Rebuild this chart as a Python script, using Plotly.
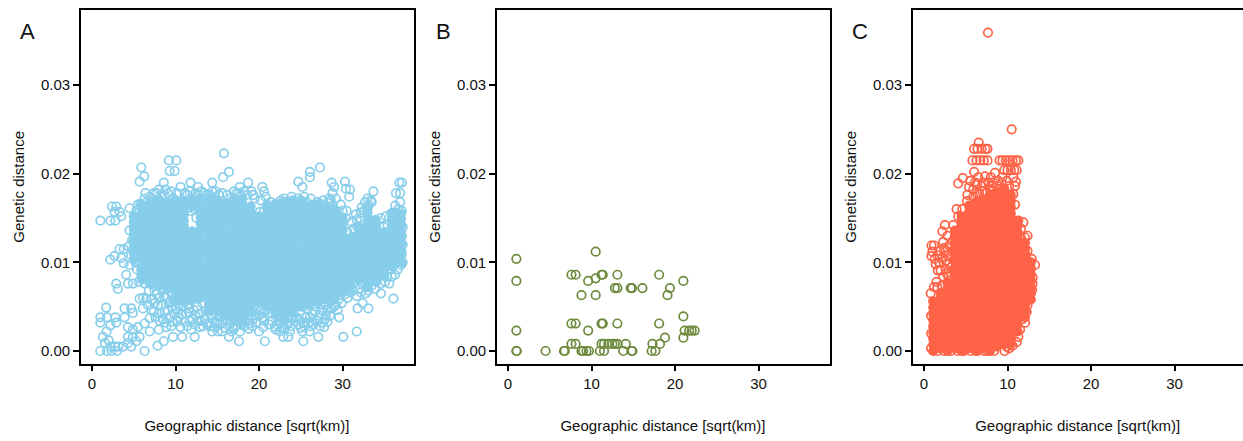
import plotly.graph_objects as go

W, H = 1243, 441
SKY, OLIVE, TOMATO = "#87CEEB", "#6E8B3D", "#FF6347"
PANELS = ["A", "B", "C"]
X_TICKS = [0, 10, 20, 30]
Y_TICKS = [0.0, 0.01, 0.02, 0.03]
Y_LABELS = ["0.00", "0.01", "0.02", "0.03"]
X_TITLE = "Geographic distance [sqrt(km)]"
Y_TITLE = "Genetic distance"

# genetic distance values below are in units of 1e-4
A_core_x = [5, 6, 7, 8, 9, 10, 11, 12, 13, 14, 15, 16, 17, 18, 19, 20, 21, 22, 23, 24, 25, 26, 27, 28, 29, 30, 31, 32, 33, 34, 35, 36, 37]
A_core_y = [
 [103, 110, 117, 124, 131, 138, 145, 152],
 [81, 88, 95, 102, 109, 116, 123, 130, 137, 144, 151, 158, 165],
 [77, 84, 91, 98, 105, 112, 119, 126, 133, 140, 147, 154, 161, 168],
 [73, 80, 87, 94, 101, 108, 115, 122, 129, 136, 143, 150, 157, 164, 171],
 [70, 77, 84, 91, 98, 105, 112, 119, 126, 133, 140, 147, 154, 161, 168],
 [59, 66, 73, 80, 87, 94, 101, 108, 115, 122, 129, 136, 143, 150, 157, 164, 170],
 [56, 63, 70, 77, 84, 91, 98, 105, 112, 119, 126, 133, 140, 147, 154, 161, 168],
 [58, 65, 72, 79, 86, 93, 100, 107, 114, 121, 128, 135, 163, 170],
 [60, 67, 74, 81, 88, 95, 102, 109, 116, 123, 130, 137, 144, 151, 158, 165, 172],
 [46, 53, 60, 67, 74, 81, 88, 95, 102, 109, 116, 123, 130, 137, 144, 151, 158, 165, 172],
 [44, 51, 58, 65, 72, 79, 86, 93, 100, 107, 114, 121, 128, 135, 142, 149, 156, 163, 170],
 [41, 48, 55, 62, 69, 76, 83, 90, 97, 104, 111, 118, 125, 132, 139, 146, 153, 160, 167],
 [34, 41, 48, 55, 62, 69, 76, 83, 90, 97, 104, 111, 118, 125, 132, 139, 146, 153, 160, 167, 172],
 [33, 40, 47, 54, 61, 68, 75, 82, 89, 96, 103, 110, 117, 124, 131, 138, 145, 152, 159, 166, 172],
 [45, 52, 59, 66, 73, 80, 87, 94, 101, 108, 115, 122, 129, 136, 143, 150, 157, 163],
 [56, 63, 70, 77, 84, 91, 98, 105, 112, 119, 126, 133, 140, 147, 152],
 [52, 59, 66, 73, 80, 87, 94, 101, 108, 115, 122, 129, 136, 143, 150, 157, 163],
 [42, 49, 56, 63, 70, 77, 84, 91, 98, 105, 112, 119, 126, 133, 140, 147, 154, 161, 166],
 [35, 42, 49, 56, 63, 70, 77, 84, 91, 98, 105, 112, 119, 126, 133, 140, 147, 154, 161, 168],
 [44, 51, 58, 65, 72, 79, 86, 93, 100, 107, 114, 121, 128, 135, 142, 149, 156, 163, 168],
 [50, 57, 64, 71, 78, 85, 92, 99, 106, 113, 120, 127, 134, 141, 148, 155, 162, 168],
 [52, 59, 66, 73, 80, 87, 94, 101, 108, 115, 122, 129, 136, 143, 150, 157, 164],
 [55, 62, 69, 76, 83, 90, 97, 104, 111, 118, 125, 132, 139, 146, 153, 160, 165],
 [58, 65, 72, 79, 86, 93, 100, 107, 114, 121, 128, 135, 142, 149, 156, 161],
 [58, 65, 72, 79, 86, 93, 100, 107, 114, 121, 128, 135, 142, 149, 156, 160],
 [66, 73, 80, 87, 94, 101, 108, 115, 122, 129, 136, 143, 150],
 [72, 79, 86, 93, 100, 107, 114, 121, 128],
 [80, 87, 94, 101, 108, 115, 122, 129, 136, 140],
 [72, 79, 86, 93, 100, 107, 114, 121, 128, 135, 142, 149, 156, 161],
 [78, 85, 92, 99, 106, 113, 120, 127, 134, 141, 148],
 [85, 92, 99, 106, 113, 120, 127, 134],
 [95, 102, 109, 116, 123, 130, 137, 144, 151, 156],
 [100, 107, 114, 121, 128, 135, 142, 149, 155],
]

A_outliers = [
 (15.8, 223), (16.4, 202), (15.7, 196), (9.2, 215), (10.1, 215), (9.3, 203), (9.9, 203), (5.9, 207),
 (6.25, 197), (5.7, 191), (8.6, 190), (6.4, 178), (11.8, 190), (10.6, 185), (12.7, 185), (14.4, 190),
 (17.7, 185), (18.7, 190), (19.1, 180), (20.4, 185), (20.6, 180), (20.8, 174), (24.7, 191), (25.2, 185),
 (26.1, 202), (26.1, 196), (27.3, 207), (28.7, 190), (29, 185), (30.3, 191), (30.4, 183), (30.9, 182),
 (30.8, 174), (33.7, 180), (36.8, 190), (37.1, 190), (36.4, 178), (36.9, 178), (23.9, 174), (22.9, 164),
 (28.8, 178), (28.4, 172),
 (1, 147), (2.2, 147), (2.8, 147), (2.4, 163), (2.9, 163), (2.7, 157), (3.3, 157), (3.5, 152), (4.5, 161),
 (5.1, 152), (5.5, 165), (4.5, 136), (5.7, 140), (2.2, 103), (2.7, 107), (3.3, 115), (3.8, 115), (3.5, 105),
 (3.8, 99), (4.5, 97), (4.1, 86), (4.3, 76), (4.9, 76), (2.9, 76), (3.1, 70), (6.3, 76), (5.1, 123), (4.9, 114),
 (1, 0), (1, 38), (1, 32), (1.7, 49), (1.8, 38), (2.8, 38), (2.9, 32), (2.2, 29), (1.75, 22), (1.3, 16),
 (1.55, 9), (2, 12), (1.8, 0), (2.35, 0), (3, 0), (2.2, 5), (2.75, 5), (3.15, 5), (3.7, 5), (3.9, 48),
 (4.7, 48), (4.9, 43), (3.9, 38), (4.3, 27), (4.9, 24), (4.3, 16), (4.9, 16), (4.3, 9), (4.7, 5), (5.3, 11),
 (5.7, 16), (6.3, 0), (6.3, 31), (5.5, 27), (6.9, 22), (6.9, 37), (7.85, 6), (8.6, 11), (6.1, 48), (5.7, 59),
 (6.5, 59), (7.5, 54), (8, 42), (8, 24), (8.9, 27), (9.7, 16), (10.8, 16), (12.3, 16), (11.9, 24), (12.9, 27),
 (11.6, 48), (9.7, 33), (10.6, 27), (14, 32), (14.4, 22), (15.1, 22), (15.6, 22), (16.4, 16), (17.6, 11),
 (17.7, 22), (16.9, 27), (18.7, 37), (19.7, 32), (20, 22), (20.7, 11), (20.5, 27), (21.9, 27), (22.5, 22),
 (22.9, 16), (23.5, 16), (23.7, 22), (23.6, 32), (25.3, 11), (25.2, 22), (25.3, 32), (26.05, 22), (27.1, 16),
 (26.3, 33), (27.8, 27), (28.2, 33), (29.6, 38), (30.1, 16), (31.7, 22), (29.9, 54), (31.8, 48), (32.4, 54),
 (33.1, 48), (32.8, 65), (34.6, 65), (36.1, 59), (37, 97), (35.6, 76), (34.6, 76), (34, 80), (34.2, 136), (33.7, 147),
]

A_fringe = [
 (5.2, 100), (4.7, 108), (5.4, 92), (5.9, 84), (6.4, 90), (5.6, 78), (6.8, 68), (7.4, 74), (7.8, 64), (8.4, 70),
 (8.9, 60), (9.5, 66), (9.9, 56), (10.5, 60), (6.6, 84), (7.3, 82), (8.3, 52), (9.1, 46), (9.6, 50), (10.3, 44),
 (10.9, 50), (11.3, 42), (7.1, 46), (7.6, 38), (8.5, 36), (9.2, 38), (10.2, 33), (11.1, 33), (11.7, 34), (12.3, 30),
 (12.6, 50), (13.2, 54), (13.6, 45), (14.3, 40), (14.7, 33), (15.2, 38), (15.7, 32), (16.2, 36), (16.7, 22), (17.2, 28),
 (17.4, 34), (18.2, 28), (18.6, 44), (19.2, 44), (19.6, 40), (20.2, 46), (20.8, 54), (21.3, 50), (21.6, 42), (22.2, 38),
 (22.5, 32), (23.1, 26), (23.4, 38), (24, 44), (24.5, 38), (24.9, 44), (25.6, 38), (25.8, 48), (26.4, 42), (26.8, 50),
 (27.2, 40), (27.5, 46), (27.9, 36), (28.2, 46), (28.6, 56), (29.2, 66), (29.7, 66), (30.3, 64), (30.7, 76), (31, 66),
 (31.4, 78), (31.9, 70), (32.3, 76), (32.6, 84), (33.2, 80), (33.7, 88), (34.3, 90), (34.8, 86), (35.3, 84), (35.8, 92),
 (36.3, 86), (36.7, 100), (37.1, 110), (36.4, 104), (35.3, 100), (34.6, 104), (30.6, 134), (31.2, 128), (31.8, 140), (32.1, 150),
 (32.6, 158), (33.1, 164), (33.5, 168), (32.3, 162), (31.6, 154), (31.1, 145), (30.4, 150), (30, 158), (29.6, 152), (29.2, 158),
 (28.8, 164), (28.3, 167), (27.8, 162), (27.3, 166), (26.5, 165), (25.7, 168), (25, 170), (24.4, 167), (23.3, 168), (22.3, 165),
 (21.7, 162), (21, 165), (20.2, 170), (19.5, 172), (18.6, 176), (17.9, 175), (17.3, 178), (16.7, 173), (15.6, 178), (14.8, 180),
 (14.1, 176), (13.4, 178), (12.8, 176), (12.2, 172), (11.4, 176), (11, 170), (10.7, 166), (9.7, 172), (9.1, 178), (8.4, 176),
 (7.7, 178), (7.2, 172), (6.6, 168), (6.2, 162), (5.6, 156), (36.3, 164), (36.9, 168), (35.8, 155), (35.2, 152), (34.6, 150),
 (37.2, 140), (37.1, 130), (37.2, 120), (33.8, 130), (33.4, 118), (34.3, 110), (31.9, 96), (31, 110), (30.6, 120), (5.4, 150),
 (11.9, 158), (12.3, 160), (11.6, 162), (12.5, 150), (4.8, 125), (4.4, 118), (5.2, 135),
]

A_band = [
 (7.2, 58), (7.9, 52), (8.7, 44), (9.4, 56), (10.1, 48), (10.8, 42), (11.5, 52), (12.2, 46), (12.9, 42), (13.5, 36), (14.1, 28), (14.6, 27),
 (15.3, 30), (15.9, 26), (16.5, 30), (17, 25), (17.8, 30), (18.4, 36), (18.9, 31), (19.4, 50), (20, 40), (20.6, 34), (21.1, 42), (21.5, 34),
 (22.1, 30), (22.7, 26), (23.3, 30), (23.8, 28), (24.3, 34), (24.8, 36), (25.4, 28), (25.9, 32), (26.5, 30), (27, 34), (27.6, 32), (28, 40),
 (28.5, 40), (29, 50), (29.5, 58), (30.1, 70), (30.6, 60), (31.2, 70), (31.7, 62), (32.2, 66), (32.9, 72), (33.5, 74), (7.5, 68), (8.1, 60),
 (8.6, 62), (9.2, 54), (9.8, 42), (10.4, 52), (11, 58), (11.6, 44), (12.4, 40), (13, 34), (13.8, 30), (14.9, 40), (15.5, 44), (16, 40),
 (17.6, 36), (18.1, 38), (18.8, 25), (19.3, 36), (19.8, 46), (20.4, 38), (21, 47), (21.8, 48), (22.4, 44), (23, 34), (23.6, 44), (24.2, 48),
 (24.7, 30), (25.3, 50), (26.1, 38), (26.7, 44), (27.4, 52), (28, 52), (28.4, 62), (29, 60), (29.4, 46), (30, 66), (6.9, 76), (7.7, 84),
 (7.2, 90), (5.9, 92), (6.3, 102), (5.5, 112), (6.1, 60), (6.7, 52), (7.4, 44), (8.1, 34), (8.8, 32), (9.5, 28), (10.4, 38), (11.4, 28), (12, 36),
 (12.7, 34), (13.3, 28), (13.9, 44), (14.5, 48), (15, 32), (16.6, 40), (18.3, 46), (19.2, 28), (20.5, 44), (21.2, 30), (22, 24), (22.6, 40), (24, 38),
 (25, 26), (26.2, 28), (27.3, 28), (28.7, 48), (29.2, 52), (30.8, 68), (33.1, 68), (33.9, 70), (35.1, 78), (35.9, 84), (36.6, 92), (37.2, 100),
 (34.9, 140), (35.4, 142), (35.9, 148), (36.3, 156), (36.7, 160), (37.1, 158), (33.4, 170), (33, 172), (32.7, 168), (32.2, 156), (31.7, 148), (31.3, 138),
 (30.5, 158), (29.8, 165), (29.2, 172), (28.6, 170), (27.7, 170), (27, 168), (26.2, 172), (25.4, 174), (24.7, 172), (24, 170), (23, 172), (22.6, 170),
 (21.4, 168), (20.6, 158), (20.1, 157), (19.3, 176), (18.2, 180), (17.6, 178), (17, 180), (16.2, 176), (15.2, 176), (14.4, 180), (13.7, 176), (13.1, 180),
 (12.4, 178), (11.7, 180), (11.1, 178), (10.2, 178), (9.5, 180), (8.8, 182), (8, 182), (7.4, 178), (6.9, 174), (6.3, 172), (5.8, 166), (5.3, 158),
]

B_points = [
 (1, 104), (1, 79), (1, 23), (1, 0), (1.05, 0), (4.5, 0), (6.7, 0), (6.8, 0), (8.8, 0), (9, 0), (9.4, 0), (9.7, 0),
 (11, 0), (11.5, 0), (13.8, 0), (14.8, 0), (14.9, 0), (17.2, 0), (17.65, 0), (7.6, 8), (8.1, 8), (11.2, 8), (11.5, 8),
 (12, 8), (12.5, 8), (12.8, 8), (13.1, 8), (14.1, 8), (17.3, 8), (18.2, 8), (18.8, 15), (21, 15), (7.6, 31), (8.1, 31),
 (9.6, 23), (11.2, 31), (11.35, 31), (13.1, 31), (18.1, 31), (21, 39), (21.15, 23), (21.7, 23), (22, 23), (22.35, 23),
 (10.5, 112), (7.6, 86), (8.1, 86), (9.6, 79), (10.5, 82), (11.2, 86), (11.35, 86), (13.1, 86), (18.1, 86), (21, 79),
 (19.4, 71), (19.1, 63), (8.8, 63), (10.5, 63), (12.8, 71), (13.1, 71), (14.7, 71), (14.85, 71), (16.1, 71),
]

C_core_x = [1.1, 2.0, 2.8, 3.7, 4.5, 5.4, 6.2, 7.0, 7.9, 8.7, 9.6, 10.4, 11.2, 12.1, 12.8]
C_core_y = [
 [0, 7, 14, 21, 28, 35, 42, 49, 56],
 [3, 10, 17, 24, 31, 38, 45, 52, 59, 65],
 [0, 7, 14, 21, 28, 35, 42, 49, 56, 63, 70, 77],
 [3, 10, 17, 24, 31, 38, 45, 52, 59, 66, 73, 80, 87, 94, 101, 108, 115, 122, 129, 136],
 [0, 7, 14, 21, 28, 35, 42, 49, 56, 63, 70, 77, 84, 91, 98, 105, 112, 119, 126, 133, 140, 147, 152],
 [3, 10, 17, 24, 31, 38, 45, 52, 59, 66, 73, 80, 87, 94, 101, 108, 115, 122, 129, 136, 143, 150, 157, 164],
 [0, 7, 14, 21, 28, 35, 42, 49, 56, 63, 70, 77, 84, 91, 98, 105, 112, 119, 126, 133, 140, 147, 154, 161, 168],
 [3, 10, 17, 24, 31, 38, 45, 52, 59, 66, 73, 80, 87, 94, 101, 108, 115, 122, 129, 136, 143, 150, 157, 164, 170],
 [0, 7, 14, 21, 28, 35, 42, 49, 56, 63, 70, 77, 84, 91, 98, 105, 112, 119, 126, 133, 140, 147, 154, 161, 168, 175],
 [5, 12, 19, 26, 33, 40, 47, 54, 61, 68, 75, 82, 89, 96, 103, 110, 117, 124, 131, 138, 145, 152, 159, 166, 173, 180],
 [8, 15, 22, 29, 36, 43, 50, 57, 64, 71, 78, 85, 92, 99, 106, 113, 120, 127, 134, 141, 148, 155, 162, 169, 176, 183],
 [8, 15, 22, 29, 36, 43, 50, 57, 64, 71, 78, 85, 92, 99, 106, 113, 120, 127, 134, 141, 148, 155, 162, 169, 176],
 [22, 29, 36, 43, 50, 57, 64, 71, 78, 85, 92, 99, 106, 113, 120, 127, 134, 141, 147],
 [38, 45, 52, 59, 66, 73, 80, 87, 94, 101, 108, 115, 122],
 [58, 65, 72, 79, 86, 93, 100],
]

C_rings = [
 (7.66, 359), (10.5, 250), (6.55, 235), (6.0, 228), (6.4, 228), (6.9, 228), (7.35, 228), (7.6, 228),
 (5.8, 215), (6.3, 215), (6.75, 215), (7.15, 215), (7.6, 215), (9.05, 215), (9.4, 215), (9.8, 215),
 (10.2, 215), (10.6, 215), (11.0, 215), (11.3, 215), (9.6, 204), (10, 204), (10.4, 204), (10.8, 204),
 (11.1, 204), (6, 202), (8.5, 201), (4.65, 195), (4.1, 189), (5.4, 185), (5.55, 192), (7.3, 197), (6.35, 189),
 (11, 191), (10.7, 177), (10.9, 165), (5.15, 169), (3.9, 160), (11.9, 145), (11.3, 147), (12.4, 130),
 (12.4, 113), (12.9, 104), (13.3, 97), (13, 83), (12.95, 69), (12.5, 61), (12.1, 32), (11.3, 16), (11.1, 10),
 (9.65, 0), (8.4, 0), (2.5, 142), (2.2, 135), (2.8, 130), (2.3, 123), (0.9, 119), (1.2, 119), (0.9, 107),
 (1.4, 98), (1.65, 91), (2, 91), (3, 119), (2.6, 113), (2.2, 106), (2.6, 102), (3, 98), (1.6, 108), (1.8, 100),
 (0.8, 65), (1.2, 72), (1.6, 72), (6.9, 186), (7.7, 190), (8.1, 186), (8.9, 192), (9.3, 190), (6.6, 178),
 (7.4, 178), (8.2, 180), (5.9, 174), (4.6, 160), (4.1, 152), (3.5, 142), (11.6, 128), (11.9, 120), (12.6, 100),
 (11.5, 24), (11.8, 36), (12.4, 52), (13, 76), (3.3, 95), (3.2, 106), (3.4, 124), (0.85, 40), (0.85, 20), (0.85, 3),
 (1.6, 0), (2.4, 0), (3.2, 0), (4, 0), (4.8, 0), (5.6, 0), (6.4, 0), (7.2, 0), (7.6, 0),
 (1.0, 112), (1.3, 104), (1.9, 113), (2.4, 116), (2.8, 108), (3.3, 112), (3.2, 88), (2.6, 92), (2.3, 84), (2.9, 84),
 (5.2, 176), (5.9, 182), (6.3, 178), (7, 180), (7.9, 182), (8.3, 190), (8.8, 186), (9.4, 196), (9.9, 192), (10.2, 186),
 (10.7, 196), (10.9, 186), (6.5, 196), (7.1, 190), (8, 196), (6.1, 190), (11.6, 138), (12.1, 128), (12.2, 108), (12.7, 90),
 (11.9, 52), (12.3, 44), (11.1, 30), (10.9, 22), (10.6, 6), (10.2, 3), (9.9, 5), (1.5, 78), (2.2, 74), (2.7, 88),
]


def flatten(xs, ys):
    px, py = [], []
    for x, col in zip(xs, ys):
        for y in col:
            px.append(x)
            py.append(y * 1e-4)
    return px, py


def unzip(points):
    return [p[0] for p in points], [p[1] * 1e-4 for p in points]


def rings(points, color, ax):
    x, y = unzip(points)
    return go.Scatter(x=x, y=y, mode="markers", xaxis=f"x{ax}", yaxis=f"y{ax}", showlegend=False,
                      marker=dict(symbol="circle-open", size=8.5, color=color, line=dict(width=1.7, color=color)))


def core(xs, ys, color, ax):
    x, y = flatten(xs, ys)
    return go.Scatter(x=x, y=y, mode="markers", xaxis=f"x{ax}", yaxis=f"y{ax}", showlegend=False,
                      marker=dict(symbol="circle", size=10, color=color, line=dict(width=0)))


fig = go.Figure()
fig.add_trace(core(A_core_x, A_core_y, SKY, 1))
fig.add_trace(rings(A_outliers + A_fringe + A_band, SKY, 1))
fig.add_trace(rings(B_points, OLIVE, 2))
fig.add_trace(core(C_core_x, C_core_y, TOMATO, 3))
fig.add_trace(rings(C_rings, TOMATO, 3))

FONT = dict(family="Liberation Sans, Arial, sans-serif", size=15, color="#111111")
lefts = [80.5, 496.5, 912.5]
rights = [413.5, 829.5, 1243]
xmax = [38.5, 38.5, 38.2]
layout = dict(width=W, height=H, margin=dict(l=0, r=0, t=0, b=0), paper_bgcolor="white", plot_bgcolor="white",
              showlegend=False, font=FONT)
annotations = []
for i in range(3):
    s = str(i + 1)
    layout[f"xaxis{s}"] = dict(domain=[lefts[i] / W, rights[i] / W], range=[-1.377, xmax[i]], anchor=f"y{s}",
                               tickvals=X_TICKS, ticks="outside", ticklen=5.5, tickwidth=1.5, tickcolor="black",
                               showgrid=False, zeroline=False, showline=True, linecolor="black", linewidth=1.6,
                               mirror=True, tickfont=dict(size=15),
                               title=dict(text=X_TITLE, font=dict(size=15), standoff=30))
    layout[f"yaxis{s}"] = dict(domain=[1 - 363.5 / H, 1 - 10.2 / H], range=[-0.00141, 0.03844], anchor=f"x{s}",
                               tickvals=Y_TICKS, ticktext=Y_LABELS, ticks="outside", ticklen=5.5, tickwidth=1.5,
                               tickcolor="black", showgrid=False, zeroline=False, showline=True, linecolor="black",
                               linewidth=1.6, mirror=(i < 2), tickfont=dict(size=15),
                               title=dict(text=Y_TITLE, font=dict(size=15), standoff=13))
    annotations.append(dict(text=PANELS[i], x=(lefts[i] - 53) / W, y=1 - 31 / H,
                            xref="paper", yref="paper", showarrow=False, xanchor="center", yanchor="middle",
                            font=dict(size=22, color="#111111")))
layout["annotations"] = annotations
fig.update_layout(**layout)
fig.write_html("out.html", config={"displayModeBar": False},
               post_script="document.body.style.margin='0';document.documentElement.style.overflow='hidden';")
